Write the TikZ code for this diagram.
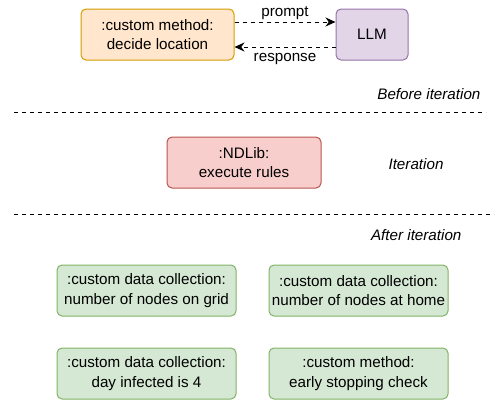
\documentclass[tikz,border=0pt]{standalone}
\usepackage{fontspec}
\setmainfont{Liberation Sans}
\usetikzlibrary{arrows.meta,positioning}

\definecolor{orangefill}{HTML}{FFE6CC}
\definecolor{orangeline}{HTML}{D79B00}
\definecolor{purplefill}{HTML}{E1D5E7}
\definecolor{purpleline}{HTML}{9673A6}
\definecolor{redfill}{HTML}{F8CECC}
\definecolor{redline}{HTML}{B85450}
\definecolor{greenfill}{HTML}{D5E8D4}
\definecolor{greenline}{HTML}{82B366}

\tikzset{
    box/.style={rectangle, rounded corners=5pt, line width=1pt, align=center,
        minimum height=51pt, inner sep=0pt,
        font=\fontsize{15.2}{19.5}\selectfont},
    stage/.style={font=\fontsize{15.2}{18}\selectfont\itshape, anchor=east},
    sep/.style={dashed, line width=1pt, dash pattern=on 4pt off 4pt},
}

\begin{document}
\begin{tikzpicture}[x=1pt, y=-1pt]
            \useasboundingbox (0,0) rectangle (496,402);

            \node[box, fill=orangefill, draw=orangeline, minimum width=153pt] (decide) at (157.5,34.5)
                {:custom method:\\decide location};
            \node[box, fill=purplefill, draw=purpleline, minimum width=72pt] (llm) at (372,34.5) {LLM};

            \draw [-{Stealth[length=10pt,width=9pt]}, sep]
                ([yshift=12.5pt]decide.east) -- node[above=-1pt, font=\fontsize{15.2}{18}\selectfont] (prompt) {prompt}
                ([yshift=12.5pt]llm.west);
            \draw [-{Stealth[length=10pt,width=9pt]}, sep]
                ([yshift=-12.5pt]llm.west) -- node[below=2pt, font=\fontsize{15.2}{18}\selectfont] (response) {response}
                ([yshift=-12.5pt]decide.east);

            \node[stage] (before) at (484,94) {Before iteration};
            \coordinate (s1a) at (14,112);
            \coordinate (s1b) at (486,112);
            \draw [sep] (s1a) -- (s1b);

            \node[box, fill=redfill, draw=redline, minimum width=154pt] (ndlib) at (244,162.5)
                {:NDLib:\\execute rules};
            \node[stage] (iter) at (447,164) {Iteration};

            \coordinate (s2a) at (14,214);
            \coordinate (s2b) at (494,214);
            \draw [sep] (s2a) -- (s2b);
            \node[stage] (after) at (465,235) {After iteration};

            % data collection and stopping check
            \node[box, fill=greenfill, draw=greenline, minimum width=179pt] (grid) at (146.5,290.5)
                {:custom data collection:\\number of nodes on grid};
            \node[box, fill=greenfill, draw=greenline, minimum width=179pt] (home) at (358.5,290.5)
                {:custom data collection:\\number of nodes at home};
            \node[box, fill=greenfill, draw=greenline, minimum width=179pt] (day) at (146.5,373.5)
                {:custom data collection:\\day infected is 4};
            \node[box, fill=greenfill, draw=greenline, minimum width=179pt] (stop) at (358.5,373.5)
                {:custom method:\\early stopping check};

        \end{tikzpicture}
\end{document}
